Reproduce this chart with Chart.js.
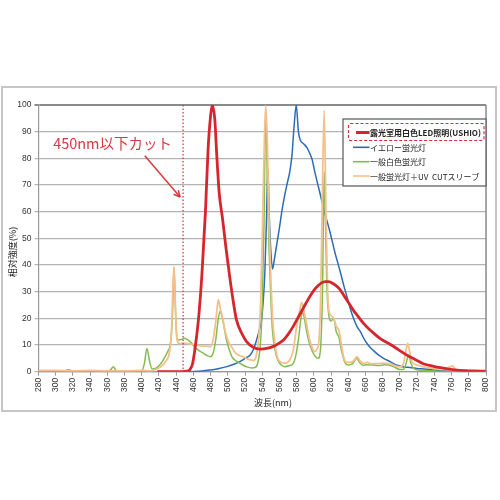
<!DOCTYPE html>
<html><head><meta charset="utf-8">
<script src="https://cdn.jsdelivr.net/npm/chart.js@4.4.1/dist/chart.umd.min.js"></script>
<style>
html,body{margin:0;padding:0;background:#fff;}
#wrap{position:relative;width:500px;height:500px;}
#frame{position:absolute;left:1px;top:86px;width:492px;height:322px;border:2px solid #c6c6c6;}
canvas{position:absolute;left:0;top:0;}
</style></head><body>
<div id="wrap"><div id="frame"></div><canvas id="c" width="500" height="500"></canvas></div>
<script>
// ---- data ----
const seriesLabels = ['露光室用白色LED照明(USHIO)','イエロー蛍光灯','一般白色蛍光灯','一般蛍光灯＋UV  CUTスリーブ'];

const ledNm  = [418,440,452,456,459,462,466,470,474,477,480,482,485,487,490,494,498,502,506,510,516,522,530,537,545,553,561,565,570,576,582,588,594,600,605,609,613,617,621,625,630,634,640,646,652,658,664,670,678,689,698,708,718,727,737,747,757,766,776,785,800];
const ledVal = [0,0,0.2,0.8,3,9,20,37,60,83,96,100,94,82,67,57,46,36,27,19.5,14.5,11.2,9.1,8.5,8.7,9.5,11,12,14,17,20.5,24,27.5,30.5,32.3,33.3,33.8,33.8,33.3,32.5,31,29,26,23,20.5,18,16,14.3,12.2,10.2,8.3,6.2,4.5,3,2.2,1.5,1,0.6,0.4,0.3,0.2];

const yellowNm  = [455,470,480,490,499,507,514,520,526,530,533.5,537,539,541,543,545,546.5,548,550,552,554,557,560,563,566,569,572,574.5,577,579.5,582,584,588,592,595,598,601,604,607,610,613,616,619,622,625,628,631,635,639,642,646,650,654,658,663,669,675,681,689,696,704,712,720,728,735,743,751,760];
const yellowVal = [0,0.3,0.6,1.2,1.9,2.8,3.8,5,6.3,8.5,12,16,19,26,37,58,76,60,45,38.5,42,48,54,60.6,66,70.6,75,81,92,100,90,87,85.5,84,82,79.5,75,71,67,63,59,55.6,52,48,44,40.6,37,32,27.5,24,20,17,15,12.5,10,8,6.3,5,3.7,2.5,1.8,1.6,1.2,1,0.8,0.5,0.3,0];

const whiteNm  = [280,300,310,315,320,330,340,350,360,364,367,370,375,390,400,403,406,409,412,416,422,426,430,433.5,435.5,437.5,439.5,441,445,449,453,457,461,466,472,476,480,483,486,489,491,493,495.5,498,501,505,510,516,522,528,532,535,538,540,542,544,546,548,550,552,555,558,562,566,571,576,579,582,585,587,589,592,596,600,605,608,610,612,613.5,615,617,620,623,626,629,632,636,640,645,650,653,657,662,668,675,682,688,695,700,704,707,710,713,716,722,730,740,760,800];
const whiteVal = [0,0,0.3,0.7,0.3,0.2,0.2,0,0,0.8,1.9,0.5,0,0,0.3,3,8.7,4,1,1.2,3,5,7.5,11,20,39,20,12,12,12.5,12,11,9.4,8,6.9,6,5.6,7,12,20,22.7,21,17,12.5,9,5.5,4,2.8,1.8,1.4,1.6,3.5,11,25,55,98,70,45,27,15,8,4.4,2.5,1.9,2.2,3.1,6,12,20,22.5,20,14.4,9.4,6.5,5,10,30,75,55,33,22,19,20,15,13,8,3.5,2.5,3,5,3.5,2.4,2.6,2.5,2.3,2.6,2.4,1.5,0.8,0.8,3,6.2,3,1.2,0.6,0.4,0.3,0,0];

const uvNm  = [280,300,320,340,360,380,400,410,416,422,428,432,434.5,436,437.5,439,441,444,448,453,458,464,470,476,480,483,486,489,491,494,497,501,505,509,514,518,524,530,533,536,538,540,542,544,546,548,550,552,555,558,562,566,572,576,580,583,586,589,592,595,598,601,603.5,606,608,610,612,614,616,618,620,623,626,629,632,635,638,642,646,650,654,658,662,666,672,680,688,695,700,704,707,709,711,714,720,727,735,743,752,758,761,764,770,780,790,800];
const uvVal = [0.5,0.5,0.3,0.5,0.3,0.3,0.5,0.3,0.8,1.8,4,7,15,30,39.5,25,12,10.5,10.8,10.6,10.3,10,9.6,9.6,9.4,12,19,27,24,20,15,11,9,7,6,5.6,4.6,4.2,6,13,25,50,80,100,85,55,35,20,10,5,3.5,3.2,4.4,8,17,22,26,22,17,12,9,7.5,8.5,12,30,70,98,60,30,22,21,20,17,15.5,10,5,3.5,3.5,4,5.6,4,3,3.5,3,3,3.2,3,2.2,1.8,3,8,10.6,8,3.7,2.5,1.8,1.4,1.2,1.2,1.8,2.2,1,0.6,0.4,0.3,0.3];

const cutoffNm = 448;
const cutoffLabel = '450nm以下カット';
const xTitle = '波長(nm)';
const yTitle = '相対強度(%)';

const pts = (xs, ys) => xs.map((x, i) => ({x, y: ys[i]}));
const colors = ['#d7252d', '#2c6cb3', '#84bd4e', '#f3c08e'];
const widths = [2.8, 1.5, 1.5, 1.8];
const orders = [0, 3, 2, 1];
const allData = [pts(ledNm, ledVal), pts(yellowNm, yellowVal), pts(whiteNm, whiteVal), pts(uvNm, uvVal)];

const datasets = allData.map((d, i) => ({
  label: seriesLabels[i], data: d, borderColor: colors[i], backgroundColor: colors[i],
  borderWidth: widths[i], pointRadius: 0, cubicInterpolationMode: 'monotone', order: orders[i], fill: false
}));

const CJK = '"Noto Sans CJK JP", "Noto Sans", sans-serif';

const extras = {
  id: 'extras',
  afterDatasetsDraw(chart) {
    const ctx = chart.ctx, a = chart.chartArea, xs = chart.scales.x, ys = chart.scales.y;
    ctx.save();
    // right border
    ctx.strokeStyle = '#8a8a8a'; ctx.lineWidth = 1.5;
    ctx.beginPath(); ctx.moveTo(a.right, a.top); ctx.lineTo(a.right, a.bottom); ctx.stroke();
    // cutoff dotted line
    const cx = xs.getPixelForValue(cutoffNm);
    ctx.strokeStyle = '#d0303a'; ctx.lineWidth = 1.2; ctx.setLineDash([1.5, 2]);
    ctx.beginPath(); ctx.moveTo(cx, ys.getPixelForValue(100)); ctx.lineTo(cx, ys.getPixelForValue(0)); ctx.stroke();
    ctx.setLineDash([]);
    // annotation text
    ctx.fillStyle = '#d63a3f'; ctx.font = '14.5px ' + CJK; ctx.textBaseline = 'middle'; ctx.textAlign = 'left';
    ctx.fillText(cutoffLabel, xs.getPixelForValue(297), ys.getPixelForValue(85.5));
    // arrow
    const x1 = xs.getPixelForValue(403.5), y1 = ys.getPixelForValue(81);
    const x2 = xs.getPixelForValue(444.5), y2 = ys.getPixelForValue(65.5);
    ctx.strokeStyle = '#d63a3f'; ctx.lineWidth = 1.5;
    ctx.beginPath(); ctx.moveTo(x1, y1); ctx.lineTo(x2, y2); ctx.stroke();
    const ang = Math.atan2(y2 - y1, x2 - x1), hl = 7;
    ctx.beginPath(); ctx.moveTo(x2, y2);
    ctx.lineTo(x2 - hl * Math.cos(ang - 0.45), y2 - hl * Math.sin(ang - 0.45));
    ctx.moveTo(x2, y2);
    ctx.lineTo(x2 - hl * Math.cos(ang + 0.45), y2 - hl * Math.sin(ang + 0.45));
    ctx.stroke();
    // axis titles
    ctx.fillStyle = '#222'; ctx.font = '9px ' + CJK; ctx.textAlign = 'center';
    ctx.fillText(xTitle, 273, 403);
    ctx.save(); ctx.translate(12.5, 252); ctx.rotate(-Math.PI / 2); ctx.fillText(yTitle, 0, 0); ctx.restore();
    // legend
    const lx = 343, ly = 119, lw = a.right - 343, lh = 67;
    ctx.fillStyle = '#fff'; ctx.fillRect(lx, ly, lw, lh);
    ctx.strokeStyle = '#555'; ctx.lineWidth = 1.2; ctx.strokeRect(lx, ly, lw, lh);
    const rowY = [132.5, 147.3, 161.7, 176];
    chart.data.datasets.forEach((ds, i) => {
      ctx.strokeStyle = ds.borderColor; ctx.lineWidth = i === 0 ? 3 : 1.6;
      ctx.beginPath(); ctx.moveTo(i === 0 ? 356 : 353, rowY[i]); ctx.lineTo(369.5, rowY[i]); ctx.stroke();
      ctx.fillStyle = '#222'; ctx.font = (i === 0 ? 'bold ' : '') + '8px ' + CJK; ctx.textAlign = 'left';
      ctx.fillText(ds.label, 370, rowY[i] + 0.5);
    });
    // dashed highlight around first entry
    ctx.strokeStyle = '#d0303a'; ctx.lineWidth = 1.2; ctx.setLineDash([3, 2]);
    ctx.beginPath(); ctx.roundRect(348.5, 123.5, 135.5, 17, 2); ctx.stroke();
    ctx.restore();
  }
};

new Chart(document.getElementById('c'), {
  type: 'line',
  data: { datasets },
  options: {
    responsive: false, animation: false, devicePixelRatio: 1,
    layout: { padding: { top: 105, right: 14, bottom: 98.3, left: 0 } },
    plugins: { legend: { display: false }, tooltip: { enabled: false } },
    scales: {
      x: {
        type: 'linear', min: 280, max: 800,
        ticks: { stepSize: 20, minRotation: 90, maxRotation: 90, padding: 2, color: '#333', font: { family: 'Liberation Sans', size: 8.5 } },
        grid: { drawOnChartArea: false, drawTicks: true, tickLength: 4, color: '#999' },
        border: { color: '#999', width: 1.2 },
        afterFit: s => { s.height = 30; }
      },
      y: {
        min: 0, max: 100,
        ticks: { stepSize: 10, padding: 3, color: '#333', font: { family: 'Liberation Sans', size: 8.5 } },
        grid: {
          tickLength: 4,
          color: c => c.tick && c.tick.value === 100 ? '#8a8a8a' : '#b3b3b3',
          lineWidth: c => c.tick && c.tick.value === 100 ? 2 : 1.2
        },
        border: { color: '#999', width: 1.2 },
        afterFit: s => { s.width = 38.5; }
      }
    }
  },
  plugins: [extras]
});
</script>
</body></html>
